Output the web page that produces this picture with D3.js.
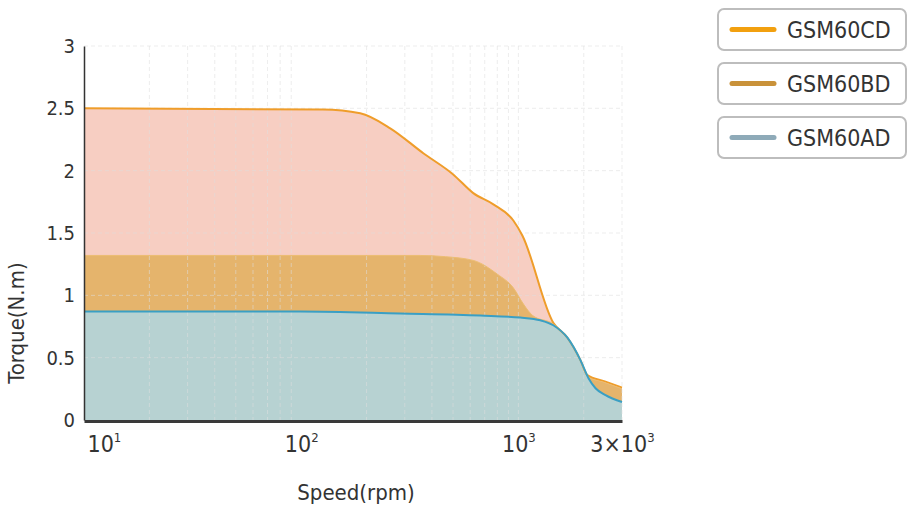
<!DOCTYPE html>
<html>
<head>
<meta charset="utf-8">
<script src="https://cdn.jsdelivr.net/npm/d3@7"></script>
<style>
  body { margin: 0; background: #fff; }
  svg { display: block; }
  text { font-family: "Liberation Sans Narrow", "DejaVu Sans Condensed", sans-serif; fill: #333; }
</style>
</head>
<body>
<div id="chart"></div>
<script>
// torque / speed curves
const speedCD = [10, 126, 187, 257, 365, 501, 620, 767, 948, 1043, 1448, 1682, 1931, 2078, 2500, 3000];
const torqueCD = [2.5, 2.49, 2.46, 2.34, 2.14, 1.97, 1.82, 1.73, 1.60, 1.48, 0.78, 0.66, 0.48, 0.36, 0.31, 0.26];

const speedBD = [10, 353, 461, 620, 800, 948, 1055, 1160, 1448, 1682, 1931, 2078, 2500, 3000];
const torqueBD = [1.32, 1.32, 1.31, 1.28, 1.17, 1.06, 0.93, 0.84, 0.77, 0.66, 0.48, 0.35, 0.30, 0.25];

const speedAD = [10, 99, 286, 668, 1021, 1262, 1448, 1682, 1931, 2103, 2266, 2519, 3000];
const torqueAD = [0.87, 0.87, 0.854, 0.838, 0.822, 0.80, 0.76, 0.66, 0.48, 0.335, 0.255, 0.20, 0.144];

const seriesNames = ["GSM60CD", "GSM60BD", "GSM60AD"];
const xTicks = [10, 100, 1000, 3000];
const xTickLabels = [["10", "1"], ["10", "2"], ["10", "3"], ["3\u00d710", "3"]];
const yTicks = [0, 0.5, 1, 1.5, 2, 2.5, 3];

const width = 914, height = 518;
const mLeft = 84, mRight = 622, mTop = 46, mBottom = 420;

const x = d3.scaleLog().domain([10, 3000]).range([mLeft, mRight]);
const y = d3.scaleLinear().domain([0, 3]).range([mBottom, mTop]);

const svg = d3.select("#chart").append("svg")
    .attr("width", width)
    .attr("height", height);

const series = [
    { name: seriesNames[0], speed: speedCD, torque: torqueCD, fill: "#f7cec2", stroke: "#ef9d2a", sw: 2, legend: "#f2a00f" },
    { name: seriesNames[1], speed: speedBD, torque: torqueBD, fill: "#e5b46c", stroke: "#ecbd72", sw: 1, legend: "#c9923a" },
    { name: seriesNames[2], speed: speedAD, torque: torqueAD, fill: "#b7d2d2", stroke: "#3a9fc4", sw: 2, legend: "#8eaab8" }
];

const area = d3.area()
    .x(d => x(d[0]))
    .y0(y(0))
    .y1(d => y(d[1]))
    .curve(d3.curveMonotoneX);

const line = d3.line()
    .x(d => x(d[0]))
    .y(d => y(d[1]))
    .curve(d3.curveMonotoneX);

// fills
svg.append("g").selectAll("path")
    .data(series)
    .join("path")
    .attr("d", s => area(d3.zip(s.speed, s.torque)))
    .attr("fill", s => s.fill);

// dashed grid, sits on top of the fills
const minor = [];
for (let dec = 10; dec < 3000; dec *= 10)
    for (let k = 2; k <= 9; k++) if (dec * k <= 3000) minor.push(dec * k);
minor.push(1000);

const grid = svg.append("g")
    .attr("stroke", "#dedede")
    .attr("stroke-opacity", 0.55)
    .attr("stroke-width", 1)
    .attr("stroke-dasharray", "4,3");

grid.selectAll("line.v")
    .data(minor)
    .join("line")
    .attr("class", "v")
    .attr("x1", d => x(d)).attr("x2", d => x(d))
    .attr("y1", mTop).attr("y2", mBottom);

grid.selectAll("line.h")
    .data(yTicks.filter(d => d > 0))
    .join("line")
    .attr("class", "h")
    .attr("x1", mLeft).attr("x2", mRight)
    .attr("y1", d => y(d)).attr("y2", d => y(d));

// outlines
svg.append("g").selectAll("path")
    .data(series)
    .join("path")
    .attr("d", s => line(d3.zip(s.speed, s.torque)))
    .attr("fill", "none")
    .attr("stroke", s => s.stroke)
    .attr("stroke-width", s => s.sw);

// axes
const yAxis = svg.append("g")
    .attr("transform", `translate(${mLeft},0)`)
    .call(d3.axisLeft(y).tickValues(yTicks).tickSize(0).tickSizeOuter(0).tickPadding(9).tickFormat(d3.format("")));
yAxis.select(".domain").attr("stroke", "#333").attr("stroke-width", 1.5);
yAxis.selectAll("text").style("font-size", "20px").attr("fill", "#333");

const xAxis = svg.append("g")
    .attr("transform", `translate(0,${mBottom + 1})`)
    .call(d3.axisBottom(x).tickValues(xTicks).tickSize(0).tickSizeOuter(0).tickPadding(10).tickFormat(() => ""));
xAxis.select(".domain").attr("stroke", "#3a3a3a").attr("stroke-width", 3);
xAxis.selectAll(".tick text")
    .style("font-size", "23px")
    .attr("fill", "#333")
    .attr("dy", "0.9em")
    .each(function(d, i) {
        const t = d3.select(this);
        if (i === 0) t.attr("text-anchor", "start").attr("x", 3);
        t.append("tspan").text(xTickLabels[i][0]);
        t.append("tspan").text(xTickLabels[i][1])
            .style("font-size", "13px")
            .attr("dy", "-0.75em");
    });

// axis titles
svg.append("text")
    .attr("transform", "translate(24,323) rotate(-90)")
    .attr("text-anchor", "middle")
    .style("font-size", "22px")
    .text("Torque(N.m)");

svg.append("text")
    .attr("x", 356)
    .attr("y", 500)
    .attr("text-anchor", "middle")
    .style("font-size", "22px")
    .text("Speed(rpm)");

// legend
const legend = svg.append("g")
    .selectAll("g")
    .data(series)
    .join("g")
    .attr("transform", (d, i) => `translate(718,${[9, 63, 117][i]})`);

legend.append("rect")
    .attr("width", 188)
    .attr("height", 41)
    .attr("rx", 6)
    .attr("fill", "#fff")
    .attr("stroke", "#bdbdbd")
    .attr("stroke-width", 2);

legend.append("line")
    .attr("x1", 14).attr("x2", 56)
    .attr("y1", 20.5).attr("y2", 20.5)
    .attr("stroke", d => d.legend)
    .attr("stroke-width", 5)
    .attr("stroke-linecap", "round");

legend.append("text")
    .attr("x", 69)
    .attr("y", 20.5)
    .attr("dy", "0.36em")
    .style("font-size", "23px")
    .attr("fill", "#222")
    .text(d => d.name);
</script>
</body>
</html>
